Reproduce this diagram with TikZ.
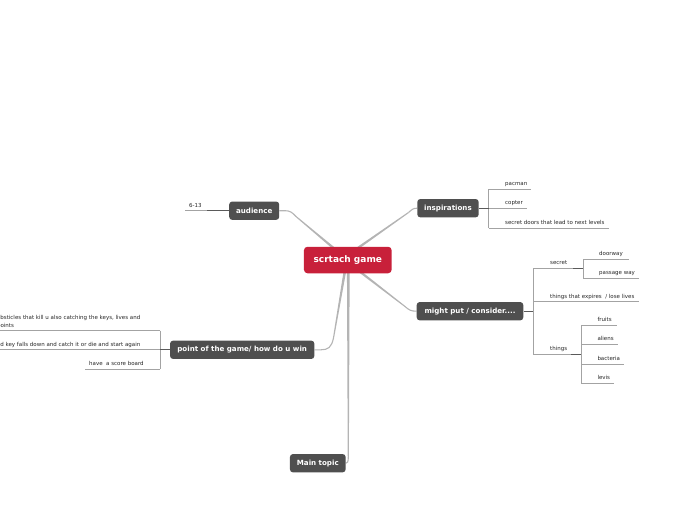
\documentclass[tikz,border=0pt]{standalone}
\usepackage{fontspec}
\setmainfont{DejaVu Sans}
\usetikzlibrary{backgrounds,calc}
\definecolor{topicred}{HTML}{C8203A}
\definecolor{topicgray}{HTML}{4F4F4F}
\definecolor{branchline}{HTML}{B4B4B4}
\definecolor{leafline}{HTML}{A3A3A3}
\definecolor{stemline}{HTML}{5A5A5A}
\tikzset{
 topic/.style={fill=topicgray, text=white, font=\bfseries\fontsize{7.1}{8}\selectfont, rounded corners=3pt, minimum height=18.3pt, inner sep=1pt},
 central/.style={fill=topicred, text=white, font=\bfseries\fontsize{9}{10}\selectfont, rounded corners=3.5pt, minimum height=26.5pt, minimum width=87.7pt, inner sep=1pt},
 leaf/.style={font=\fontsize{5.5}{7.3}\selectfont, inner sep=0pt, anchor=base west, text=black!85},
 branchend/.style={draw=branchline, line width=1.1pt},
 leafedge/.style={draw=leafline, line width=0.7pt},
 stem/.style={draw=stemline, line width=0.9pt},
}
\newcommand\taperto[2]{%
 \fill[branchline] ($(#1)!1.4pt!90:(#2)$) -- ($(#2)!0.55pt!-90:(#1)$) -- ($(#2)!0.55pt!90:(#1)$) -- ($(#1)!1.4pt!-90:(#2)$) -- cycle;}
\begin{document}
\begin{tikzpicture}[x=1pt,y=-1pt]
\useasboundingbox (0,0) rectangle (697,520);
% main nodes
\node[central] (root) at (347.8,260) {scrtach game};
\node[topic, minimum width=50pt] (aud) at (254.2,210.7) {audience};
\node[topic, minimum width=61.4pt] (insp) at (448,208.2) {inspirations};
\node[topic, minimum width=106.6pt] (might) at (470,311.2) {might put / consider....};
\node[topic, minimum width=144.3pt] (point) at (242.2,349.8) {point of the game/ how do u win};
\node[topic, minimum width=55.7pt] (main) at (317.8,463.2) {Main topic};
% leaves
\node[leaf] (l613) at (189,207) {6-13};
\node[leaf] (pacman) at (505,185.4) {pacman};
\node[leaf] (copter) at (505,204.6) {copter};
\node[leaf] (doors) at (505,224.4) {secret doors that lead to next levels};
\node[leaf] (secret) at (550,264.6) {secret};
\node[leaf] (doorway) at (599,255.4) {doorway};
\node[leaf] (passage) at (599,274.6) {passage way};
\node[leaf] (expires) at (550,298) {things that expires\ \ / lose lives};
\node[leaf] (things) at (550,350.6) {things};
\node[leaf] (fruits) at (597.3,321.4) {fruits};
\node[leaf] (aliens) at (597.3,340.6) {aliens};
\node[leaf] (bacteria) at (597.3,360.4) {bacteria};
\node[leaf] (levis) at (597.3,379.6) {levis};
\node[leaf, anchor=north east, align=left] (obst) at (140.5,315.6) {obsticles that kill u also catching the keys, lives and\\points};
\node[leaf, anchor=base east] (key) at (140.5,346.2) {and key falls down and catch it or die and start again};
\node[leaf] (score) at (89,365.5) {have\ \ a score board};
\begin{scope}[on background layer]
 % branch connectors
 \coordinate (audbend) at (296,216.5);
 \coordinate (inspbend) at (408.5,212.5);
 \coordinate (mightbend) at (405,306.5);
 \coordinate (pointbend) at (333.5,338);
 \coordinate (mainbend) at (348.3,457);
 \taperto{root.center}{audbend}
 \draw[branchend] (audbend) .. controls (292,212.3) and (290,210.7) .. (285,210.7) -- (aud.east);
 \taperto{[xshift=-7pt]root.center}{inspbend}
 \draw[branchend] (inspbend) .. controls (412,209.5) and (413,208.2) .. (insp.west);
 \taperto{[xshift=-3pt]root.center}{mightbend}
 \draw[branchend] (mightbend) .. controls (409,310) and (411,311.2) .. (might.west);
 \taperto{[xshift=-1pt]root.center}{pointbend}
 \draw[branchend] (pointbend) .. controls (331.5,347.5) and (328,349.8) .. (321,349.8) -- (point.east);
 \taperto{[xshift=0.5pt]root.center}{mainbend}
 \draw[branchend] (mainbend) .. controls (348.3,462) and (347.5,463.2) .. (main.east);
\end{scope}
% audience
\coordinate (audb) at (207,210.7);
\draw[leafedge] (audb) -- (185,210.7);
\draw[stem] (aud.west) -- (audb);
% inspirations
\coordinate (inspb) at (488.5,208.2);
\draw[leafedge] (488.5,189) -- (488.5,228);
\draw[leafedge] (488.5,189) -- (531,189);
\draw[leafedge] (inspb) -- (527,208.2);
\draw[leafedge] (488.5,228) -- (609,228);
\draw[stem] (insp.east) -- (inspb);
% might put
\coordinate (mightb) at (533.3,311.2);
\draw[leafedge] (533.3,268.3) -- (533.3,354.3);
\draw[leafedge] (533.3,268.3) -- (583.3,268.3);
\draw[leafedge] (533.3,301.7) -- (639.3,301.7);
\draw[leafedge] (533.3,354.3) -- (581,354.3);
\draw[stem] (might.east) -- (mightb);
\draw[stem] (573.3,268.3) -- (583.3,268.3);
\draw[stem] (571,354.3) -- (581,354.3);
% secret children
\draw[leafedge] (583.3,259) -- (583.3,278.3);
\draw[leafedge] (583.3,259) -- (629.3,259);
\draw[leafedge] (583.3,278.3) -- (639.3,278.3);
% things children
\draw[leafedge] (581,325) -- (581,383.3);
\draw[leafedge] (581,325) -- (616.7,325);
\draw[leafedge] (581,344.3) -- (617.7,344.3);
\draw[leafedge] (581,364) -- (624.3,364);
\draw[leafedge] (581,383.3) -- (614.3,383.3);
% point of the game
\coordinate (pointb) at (160,349.8);
\draw[leafedge] (160,330.7) -- (160,369);
\draw[leafedge] (160,330.7) -- (-10,330.7);
\draw[leafedge] (pointb) -- (-10,349.8);
\draw[leafedge] (160,369) -- (85,369);
\draw[stem] (point.west) -- (pointb);
\end{tikzpicture}
\end{document}
